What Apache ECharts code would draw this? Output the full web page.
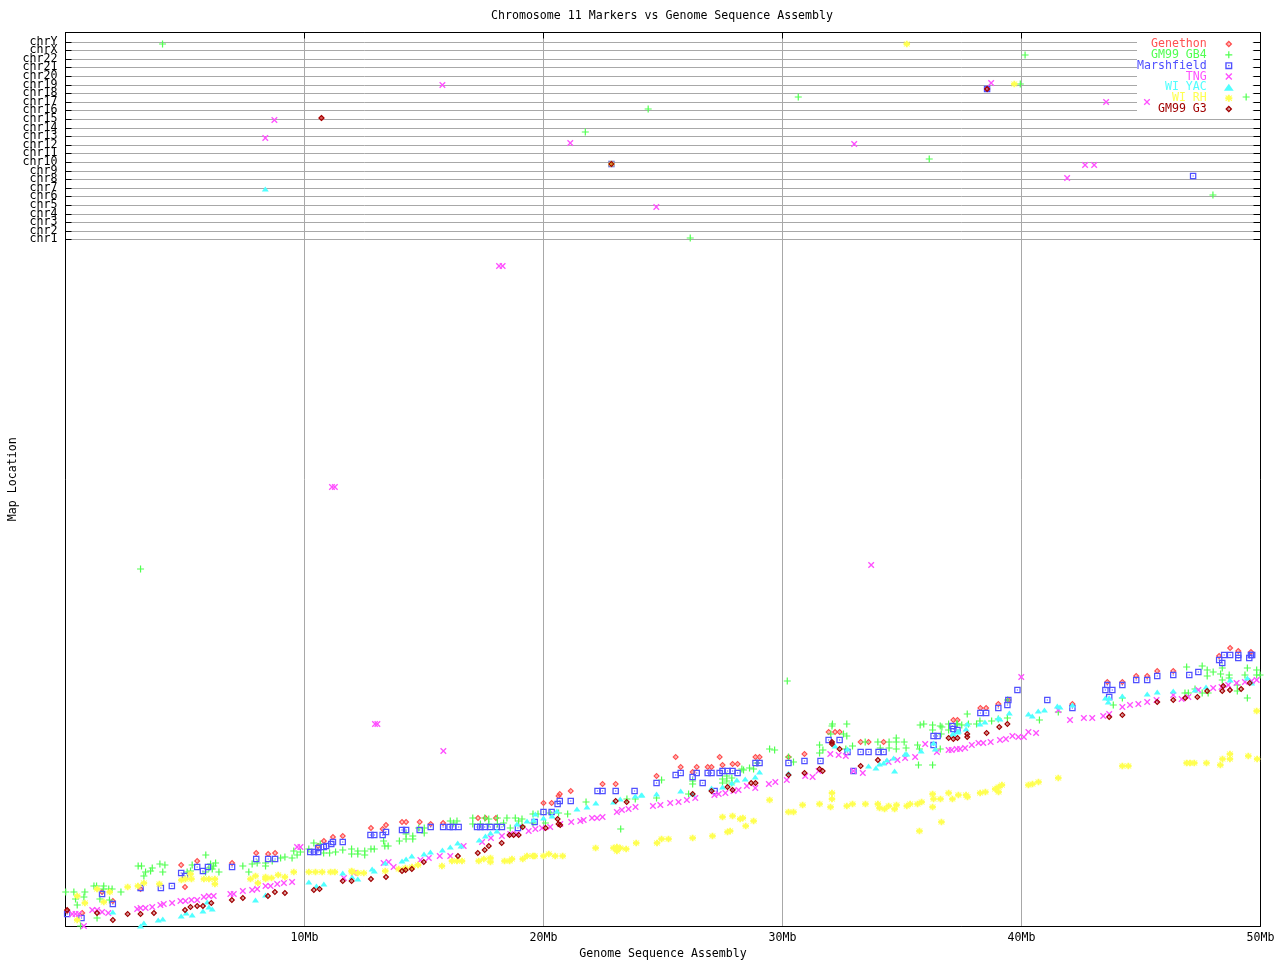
<!DOCTYPE html>
<html><head><meta charset="utf-8">
<style>html,body{margin:0;padding:0;background:#fff}#c{width:1280px;height:960px}</style>
<script src="https://cdn.jsdelivr.net/npm/echarts@6/dist/echarts.min.js"></script>
</head><body><div id="c"></div>
<script>
const chromosomes=['chr1','chr2','chr3','chr4','chr5','chr6','chr7','chr8','chr9','chr10','chr11','chr12','chr13','chr14','chr15','chr16','chr17','chr18','chr19','chr20','chr21','chr22','chrX','chrY'];
const chrPositions=[686.7,694.7,703.7,711.7,720.7,729.7,737.7,746.7,754.7,763.7,772.7,780.7,789.7,797.7,806.7,815.7,823.7,832.7,840.7,849.7,858.7,866.7,875.7,883.7];
const seriesNames=['Genethon','GM99 GB4','Marshfield','TNG','WI YAC','WI RH','GM99 G3'];
const seriesColors=['#ff5050','#50ff50','#5050ff','#ff50ff','#50ffff','#ffff50','#a00000'];

const genethon=[[.07,15],[.7,13],[1.53,34],[1.98,25],[3.14,37],[4.84,61],[5,39],[5.51,65],[6.97,63],[7.98,73],[8.48,72],[8.77,73],[10.57,80],[10.81,85],[11.19,89],[11.6,90],
[12.78,98],[13.41,101],[13.27,97],[14.08,104],[14.25,104],[14.82,104],[15.28,102],[15.8,103],[17.26,108],[17.57,108],[18.01,108],[20,123],[20.34,123],[20.63,130],[20.68,132],[21.14,135],[22.47,142],[23.02,142],
[24.73,150],[25.53,169],[25.74,159],[26.24,154],[26.41,159],[26.87,159],[27.03,159],[27.37,169],[27.49,161],[27.91,162],[28.12,162],[28.87,169],[29.04,169],[30.25,169],[30.92,172],[31.93,194],[32.2,194],[32.39,194],[33.27,184],[33.6,184],[34.23,184],
[37.15,206],[37.32,206],[38.28,218],[38.52,218],[39.03,222],[39.45,226],[42.13,222],[43.59,244],[44.22,244],[44.8,250],[45.26,250],[45.68,255],[46.35,255],[48.27,270],[48.73,278],[49.07,275],[49.6,274],
[10.71,808],[22.84,762],[38.56,837]];

const gb4=[[.01,34],[.35,34],[.81,34],[.77,29],[.42,27],[.49,21],[1.32,8],[.63,0],[1.19,40],[1.3,40],[1.6,40],[1.58,37],[1.44,27],[1.81,37],[1.95,37],[1.84,26],[2.32,34],[3.04,60],[3.18,60],[3.63,58],[3.56,55],[3.35,54],[3.28,50],[3.95,62],[4.16,61],[4.07,54],[5.3,61],[5.23,55],[5.09,54],[5.87,71],[6.28,63],[6.07,62],[6,58],[6.14,57],[6.2,60],[6.42,54],[5.86,54],[7.42,60],[7.67,54],[7.81,62],[8.02,63],[8.37,60],[8.37,63],[8.65,65],[9,68],[9.18,69],[9.48,68],[9.69,71],[9.55,75],[9.83,74],[10.18,77],[10.39,83],[10.66,82],[10.8,73],[11.05,73],[11.3,74],[11.6,76],[11.97,77],[11.97,72],
[12.23,75],[12.23,72],[12.52,75],[12.52,71],[12.78,77],[12.92,77],[13.31,85],[13.36,80],[13.5,80],[13.97,85],[14.25,92],[14.25,87],[14.53,90],[14.53,87],[14.78,98],[15.01,98],[15.01,93],[16.1,105],[16.38,105],[16.24,103],[17.04,108],[17.04,102],[17.36,102],[17.54,108],[17.71,107],[17.71,102],[18.07,108],[18.07,102],[18.33,103],[18.47,108],[18.61,98],[18.82,108],[18.96,105],[19.1,107],[19.1,100],[19.56,112],[19.56,103],[19.77,112],[20.08,103],[20.28,113],[20.63,113],[21.01,112],[21.78,124],[23.23,97],[23.49,127],[23.84,127],
[24.73,128],[24.94,146],[26.07,132],[26.24,145],[26.24,142],[27.49,147],[27.49,143],[27.67,150],[27.67,145],[27.88,148],[27.88,143],[28.3,157],[28.37,156],[28.62,158],[28.79,157],[28.93,163],[29.46,177],[29.67,176],[30.25,169],[30.46,164],[31.55,181],[31.55,173],[31.69,176],[32.07,200],[32.09,202],[32.02,192],[32.69,202],[32.55,192],[32.69,190],[32.93,180],[32.65,177],[33.46,184],[33.99,184],[34.09,178],[34.46,184],[34.46,178],[34.76,188],[34.76,184],[34.76,177],[35.09,184],[35.17,178],[35.65,181],[35.69,161],[35.73,177],[36.28,161],[35.76,201],[35.91,202],[36.28,201],[36.28,196],[36.6,200],[36.67,199],[36.64,192],[36.95,202],[36.95,196],[37.29,202],[36.6,177],
[37.32,202],[37.5,201],[37.78,202],[37.73,212],[38.12,202],[38.26,205],[38.75,205],[39.03,207],[39.41,208],[39.42,226],[40.75,206],[41.54,214],[43.84,221],[44.22,228],[46.84,233],[46.98,233],[46.91,259],[47.26,237],[47.56,233],[47.81,233],[47.77,256],[47.77,250],[47.56,260],[48.02,254],[48.33,252],[48.4,258],[48.4,246],[48.69,251],[48.69,248],[49.03,241],[49.03,235],[49.45,228],[49.45,258],[49.35,251],[49.84,256],[49.98,251],[49.84,251],
[3.14,357],[30.2,245],[4.06,882],[40.15,871],[39.95,842],[30.66,829],[49.4,829],[24.38,817],[21.75,794],[36.14,767],[48.01,731],[26.14,688]];

const marshfield=[[.07,12],[.67,8],[1.53,32],[1.98,22],[3.14,38],[3.99,38],[4.45,40],[4.84,53],[5,50],[5.51,59],[5.75,55],[5.96,59],[6.97,59],[7.98,67],[8.48,67],[8.77,67],[10.24,74],[10.4,74],[10.57,74],[10.57,78],[10.81,79],[10.91,80],[11.12,82],[11.19,84],[11.6,84],
[12.76,91],[12.92,91],[13.27,91],[13.41,94],[14.08,96],[14.25,96],[14.82,96],[15.28,99],[15.8,99],[16.07,99],[16.21,99],[16.45,99],[17.22,99],[17.36,99],[17.54,99],[17.78,99],[18.05,99],[18.26,99],[18.93,98],[19.63,104],[20,114],[20.34,114],[20.59,122],[20.68,125],[21.14,125],[22.26,135],[22.47,135],[23.02,135],[23.81,135],
[24.73,143],[25.53,151],[25.74,153],[26.24,149],[26.41,153],[26.66,143],[26.87,153],[27.03,153],[27.16,135],[27.37,153],[27.49,155],[27.7,155],[27.91,155],[28.12,153],[28.87,163],[29.04,163],[30.25,163],[30.92,165],[31.59,165],[31.93,186],[32.39,186],[32.72,174],[32.97,155],[33.27,174],[33.6,174],[34.02,174],[34.23,174],[36.32,190],[36.49,190],[36.32,181],[37.11,200],[37.15,197],[37.32,196],
[38.28,213],[38.52,213],[39.03,218],[39.41,221],[39.45,226],[39.83,236],[41.08,226],[42.13,218],[43.51,236],[43.59,241],[43.8,236],[43.67,229],[44.22,241],[44.8,246],[45.26,246],[45.68,250],[46.35,251],[47.02,251],[47.4,254],[48.27,266],[48.48,271],[48.4,263],[48.73,271],[49.07,271],[49.07,268],[49.53,268],[49.6,271],[49.65,271],
[38.56,837],[47.18,750],[22.84,762]];

const tng=[[.42,12],[.28,12],[.56,12],[.77,0],[1.12,16],[1.32,16],[1.53,14],[1.79,13],[3,17],[3.14,18],[3.35,18],[3.63,19],[3.97,21],[4.11,22],[4.46,23],[4.81,25],[5.02,25],[5.27,26],[5.51,26],[5.79,29],[6,30],[6.2,30],[6.9,32],[7.04,32],[7.42,35],[7.81,36],[8.02,37],[8.37,40],[8.58,40],[8.86,42],[9.14,43],[9.48,44],[9.69,79],[9.83,79],[11.65,48],[12.06,53],
[13.31,63],[13.52,64],[13.73,59],[14.85,66],[15.2,68],[15.66,70],[16.1,70],[16.66,80],[17.43,84],[17.8,88],[18.26,90],[18.61,92],[18.89,92],[19.38,95],[19.66,97],[19.94,98],[20.28,99],[20.7,102],[21.16,104],[21.54,105],[21.68,106],[22.03,108],[22.24,108],[22.47,109],[23.07,114],[23.28,116],[23.56,117],[23.85,119],
[24.58,120],[24.89,121],[25.3,123],[25.65,124],[26,126],[26.35,128],[27.15,131],[27.33,132],[27.61,133],[27.95,135],[28.16,136],[28.51,140],[28.86,138],[29.43,142],[29.7,144],[30.18,146],[30.95,150],[31.26,149],[31.51,155],[32,172],[32.35,171],[32.65,170],[32.97,155],[33.36,153],[34.44,164],[34.81,166],[35.13,168],[35.55,169],[35.97,182],[36.46,174],[36.95,176],[37.29,177],
[37.08,176],[37.43,177],[37.64,178],[37.92,181],[38.2,183],[38.4,183],[38.71,184],[39.1,186],[39.35,187],[39.62,190],[39.87,189],[40.1,189],[39.99,249],[40.29,194],[40.61,193],[41.54,216],[42.03,206],[42.61,208],[42.96,208],[43.42,210],[43.67,212],[44.22,219],[44.54,221],[44.89,222],[45.26,224],[45.65,226],[46.35,231],[46.7,227],[46.98,229],[47.4,236],[48.02,238],[48.37,239],[48.65,241],[49,243],[49.35,244],[49.63,245],[49.84,246],
[11.15,439],[11.27,439],[12.95,202],[13.05,202],[15.81,175],[18.14,660],[18.29,660],[33.71,361],[15.77,841],[38.73,843],[43.54,824],[45.25,824],[8.74,806],[8.36,788],[21.12,783],[33,782],[42.66,761],[43.04,761],[41.91,748],[24.72,719]];

const yac=[[1.98,14],[3.14,0],[3.28,3],[3.88,6],[4.07,7],[4.84,10],[5.05,13],[5.3,11],[5.75,15],[5.93,24],[6,19],[6.14,17],[7.95,26],[8.37,31],[10.18,44],[10.5,40],[10.81,42],[11.6,53],[11.99,49],
[12.23,47],[12.83,57],[12.92,55],[13.38,63],[14.08,65],[14.25,67],[14.49,70],[15,72],[15.27,74],[15.77,76],[16.1,79],[16.41,83],[16.55,80],[17.31,86],[17.57,90],[17.78,93],[18.05,95],[18.89,102],[19.31,105],[19.59,106],[19.66,112],[20,108],[20.36,110],[20.56,115],[21.4,117],[21.82,119],[22.19,123],[22.93,124],[23.21,127],[23.84,130],[24.12,131],
[24.09,131],[24.73,132],[25.74,135],[26.24,132],[27.03,138],[27.49,139],[27.88,143],[28.09,146],[28.44,147],[28.86,149],[29.04,154],[30.25,153],[32.2,180],[32.72,177],[33.6,160],[33.91,158],[34.06,162],[34.23,163],[34.37,166],[34.65,168],[34.69,155],[35.13,172],[35.2,172],[35.8,175],[36.32,183],[36.39,177],[37.15,192],[37.36,195],
[37.11,192],[37.32,194],[37.68,197],[37.73,202],[38.26,202],[38.47,204],[39.03,208],[39.1,207],[39.49,213],[40.29,212],[40.45,210],[40.7,215],[40.96,216],[41.5,220],[41.61,219],[42.13,221],[43.51,228],[43.63,224],[43.67,228],[44.22,230],[45.26,232],[45.68,234],[46.35,235],[47.26,236],[47.72,239],[48.73,246],[49.45,248],[49.63,243],
[8.36,737]];

const rh=[[.49,30],[.81,23],[.49,6],[1.32,37],[1.6,24],[1.85,34],[2.6,39],[3.03,40],[3.28,43],[3.93,42],[4.85,46],[5.02,47],[5.27,47],[5.23,52],[5.79,47],[6,47],[6.25,47],[6.25,42],[7.74,47],[7.95,50],[8.05,43],[8.37,49],[8.37,47],[8.62,48],[8.9,51],[9.18,49],[9.55,54],[10.18,54],[10.46,54],[10.74,54],[11.09,54],[11.27,54],[11.97,55],
[11.99,54],[12.23,53],[12.48,53],[13.38,55],[13.94,57],[14.22,58],[14.5,59],[14.75,61],[15.75,60],[16.17,65],[16.38,65],[16.59,65],[17.29,65],[17.5,67],[17.78,68],[17.78,64],[18.37,65],[18.58,65],[18.68,67],[19.13,67],[19.31,70],[19.56,70],[19.63,70],[20,70],[20.22,72],[20.49,70],[20.8,70],[22.18,78],[22.93,78],[23.07,79],[23.21,78],[23.07,75],[23.46,77],[23.88,83],
[24.75,83],[24.94,87],[25.23,87],[26.24,88],[27.07,90],[27.49,109],[27.7,94],[27.81,95],[27.91,110],[28.23,107],[28.34,108],[28.46,100],[28.79,105],[29.46,126],[30.25,114],[30.46,114],[30.84,121],[31.55,122],[32.01,119],[32.07,133],[32.07,127],[32.69,120],[32.93,122],[33.47,122],[33.99,122],[34.06,118],[34.27,117],[34.44,120],[34.69,117],[34.77,121],[35.2,120],[35.34,122],[35.65,122],[35.82,124],[36.28,119],[36.28,132],[36.32,127],[36.61,127],[36.65,104],[35.73,95],[36.95,133],[37.11,127],[37.36,131],
[37.68,131],[37.74,129],[38.27,133],[38.49,134],[38.9,137],[39.04,139],[39.18,141],[39.04,134],[40.29,141],[40.46,142],[40.71,144],[41.54,148],[44.22,160],[44.47,160],[46.91,163],[47.05,163],[47.23,163],[47.74,163],[48.32,161],[48.41,167],[48.72,172],[48.72,167],[49.49,170],[49.84,215],[49.86,167],
[35.2,882],[39.7,842],[22.84,762]];

const g3=[[.07,16],[1.32,13],[1.98,6],[2.6,12],[3.14,12],[3.7,13],[5,16],[5.23,19],[5.51,20],[5.75,20],[6.1,23],[6.96,26],[7.42,28],[8.47,30],[8.76,34],[9.18,33],[10.39,36],[10.63,37],[11.6,45],[11.97,45],
[12.78,47],[13.41,49],[14.08,55],[14.23,56],[14.49,57],[14.99,64],[16.42,70],[17.25,73],[17.54,76],[17.71,80],[18.25,83],[18.58,91],[18.75,91],[18.96,91],[19.13,99],[20.09,98],[20.59,107],[20.63,102],[20.7,101],[23.02,125],[23.48,124],
[26.24,132],[27.03,135],[27.7,139],[27.91,136],[28.69,143],[28.87,143],[30.25,151],[30.92,153],[31.55,157],[31.68,155],[32.07,184],[32.07,182],[32.39,177],[33.27,160],[33.99,166],[36.95,188],[37.15,187],[37.32,188],
[37.73,192],[37.73,189],[38.54,193],[39.07,199],[39.41,202],[43.67,209],[44.22,211],[45.68,224],[46.35,226],[46.85,228],[47.36,229],[47.77,235],[48.44,240],[48.4,235],[48.72,236],[49.19,237],[49.55,243],
[10.71,808],[22.84,762],[38.56,837]];

const seriesData=[genethon,gb4,marshfield,tng,yac,rh,g3];

const iconDiamond='path://M0 -3.5L3.5 0L0 3.5L-3.5 0ZM0 -1.5L-1.5 0L0 1.5L1.5 0ZM0 -0.7L0.7 0L0 0.7L-0.7 0Z';
const iconPlus='path://M-3.5 -0.6H-0.6V-3.5H0.6V-0.6H3.5V0.6H0.6V3.5H-0.6V0.6H-3.5Z';
const iconSquare='path://M-3 -3H3V3H-3ZM-1.85 -1.85V1.85H1.85V-1.85ZM-0.55 -0.55H0.55V0.55H-0.55Z';
const iconX='path://M-3.5 -2.5L-2.5 -3.5L0 -1L2.5 -3.5L3.5 -2.5L1 0L3.5 2.5L2.5 3.5L0 1L-2.5 3.5L-3.5 2.5L-1 0Z';
const iconTri='path://M0 -2.5L3.5 2.5H-3.5Z';
const iconStar='path://M-1 -3.5H1V-1.6L2.8 -3L3.5 -2.2L1.8 -1H3.5V1H1.8L3.5 2.2L2.8 3L1 1.6V3.5H-1V1.6L-2.8 3L-3.5 2.2L-1.8 1H-3.5V-1H-1.8L-3.5 -2.2L-2.8 -3L-1 -1.6Z';
const seriesIcons=[iconDiamond,iconPlus,iconSquare,iconX,iconTri,iconStar,iconDiamond];
const seriesSizes=[[6.5,6.5],[7,7],[6.5,6.5],[6.5,6.5],[7,5],[6.5,6.5],[6.5,6.5]];

const FONT='DejaVu Sans Mono';
const FS=11.6;
const evenChr=chrPositions.filter((_,i)=>i%2===0);
const oddChr=chrPositions.filter((_,i)=>i%2===1);
const chrName=v=>chromosomes[chrPositions.indexOf(v)]||'';
const gridBox={left:65.5,top:32.5,width:1195,height:893.5,containLabel:false,outerBoundsMode:'none'};
const chart=echarts.init(document.getElementById('c'),null,{renderer:'canvas'});
chart.setOption({
  animation:false,
  backgroundColor:'#fff',
  title:{text:'Chromosome 11 Markers vs Genome Sequence Assembly',left:662,top:10,textAlign:'center',padding:0,
    textStyle:{fontFamily:FONT,fontSize:FS,fontWeight:'normal',color:'#000'}},
  grid:[gridBox,gridBox],
  legend:{orient:'vertical',align:'right',left:1137,top:33,z:1,selectedMode:false,
    backgroundColor:'#fff',padding:[5,19,0,0],itemGap:-1.17,itemWidth:34,itemHeight:7,
    data:seriesNames.map((n,i)=>({name:n,icon:seriesIcons[i],
      textStyle:{color:seriesColors[i],fontFamily:FONT,fontSize:FS}}))},
  xAxis:[
    {type:'value',min:0,max:50,interval:10,position:'bottom',
     name:'Genome Sequence Assembly',nameLocation:'middle',nameGap:21.5,nameMoveOverlap:false,
     nameTextStyle:{fontFamily:FONT,fontSize:FS,color:'#000'},
     axisLine:{show:true,onZero:false,lineStyle:{color:'#000',width:1}},
     axisTick:{show:false},
     axisLabel:{fontFamily:FONT,fontSize:FS,color:'#000',margin:6,showMinLabel:false,showMaxLabel:true,hideOverlap:false,formatter:v=>v===0?'':v+'Mb'},
     splitLine:{show:true,lineStyle:{color:'#a8a8a8',width:1}}},
    {type:'value',min:0,max:50,interval:10,position:'top',
     axisLine:{show:true,onZero:false,lineStyle:{color:'#000',width:1}},
     axisTick:{show:true,inside:true,length:6,lineStyle:{color:'#000'}},
     axisLabel:{show:false},splitLine:{show:false}},
    {type:'value',gridIndex:1,min:0,max:50,show:false}
  ],
  yAxis:[
    {type:'value',min:0,max:893.5,position:'left',
     name:'Map Location',nameLocation:'middle',nameGap:47,nameRotate:90,nameMoveOverlap:false,
     nameTextStyle:{fontFamily:FONT,fontSize:FS,color:'#000'},
     axisLine:{show:true,onZero:false,lineStyle:{color:'#000',width:1}},
     axisTick:{show:true,inside:true,length:6,lineStyle:{color:'#000'},customValues:chrPositions},
     axisLabel:{fontFamily:FONT,fontSize:FS,color:'#000',margin:8,showMinLabel:true,showMaxLabel:true,hideOverlap:false,customValues:evenChr,formatter:chrName},
     splitLine:{show:true,lineStyle:{color:'#a8a8a8',width:1}}},
    {type:'value',min:0,max:893.5,position:'right',
     axisLine:{show:true,onZero:false,lineStyle:{color:'#000',width:1}},
     axisTick:{show:true,inside:true,length:7,lineStyle:{color:'#000'},customValues:chrPositions},
     axisLabel:{show:false},splitLine:{show:false}},
    {type:'value',gridIndex:1,min:0,max:893.5,position:'left',
     axisLine:{show:false},axisTick:{show:false},splitLine:{show:false},
     axisLabel:{fontFamily:FONT,fontSize:FS,color:'#000',margin:8,showMinLabel:true,showMaxLabel:true,hideOverlap:false,customValues:oddChr,formatter:chrName}}
  ],
  series:seriesNames.map((n,i)=>({
    name:n,type:'scatter',xAxisIndex:0,yAxisIndex:0,
    data:seriesData[i],symbol:seriesIcons[i],symbolSize:seriesSizes[i],
    itemStyle:{color:seriesColors[i],opacity:1},silent:true}))
});
</script></body></html>
